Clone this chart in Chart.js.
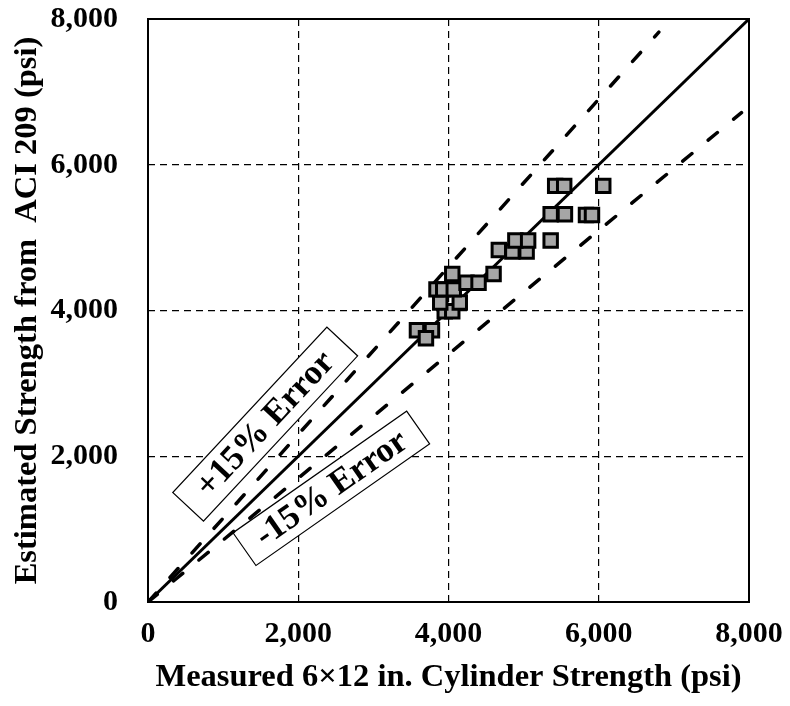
<!DOCTYPE html>
<html>
<head>
<meta charset="utf-8">
<script src="https://cdn.jsdelivr.net/npm/chart.js@4.4.1/dist/chart.umd.min.js"></script>
<style>
  body { margin: 0; background: #fff; }
  #wrap { width: 790px; height: 706px; }
</style>
</head>
<body>
<div id="wrap"><canvas id="myChart"></canvas></div>
<script>
// measured vs estimated strength (psi)
var measured  = [3580, 3780, 3700, 3950, 4050, 3890, 4150, 3840, 3930, 4070, 4050, 4240, 4400, 4600,
                 4670, 4850, 5040, 4890, 5060, 5360, 5360, 5550, 5830, 5910, 5420, 5540, 6060];
var estimated = [3730, 3730, 3620, 3990, 3990, 4110, 4110, 4290, 4290, 4290, 4500, 4380, 4380, 4500,
                 4830, 4810, 4810, 4960, 4960, 4960, 5320, 5320, 5310, 5310, 5710, 5710, 5710];

// reference lines
var equalX = [0, 8000], equalY = [0, 8000];
var upperX = [0, 6800], upperY = [0, 7820];
var lowerX = [0, 7900], lowerY = [0, 6715];

var tickValues = [0, 2000, 4000, 6000, 8000];

// boxed notes
var noteText = ["+15% Error", "-15% Error"];
var noteX = [1560, 2440];
var noteY = [2440, 1560];

function pts(xs, ys) {
  return xs.map(function (x, i) { return {x: x, y: ys[i]}; });
}

var serif = "'Liberation Serif', 'Times New Roman', serif";

var framePlugin = {
  id: 'frame',
  beforeDatasetsDraw: function (chart) {
    var ctx = chart.ctx, xs = chart.scales.x, ys = chart.scales.y;
    var style = [{ang: -47, w: 226, h: 42}, {ang: -35, w: 212, h: 40}];
    noteText.forEach(function (t, i) {
      var cx = xs.getPixelForValue(noteX[i]), cy = ys.getPixelForValue(noteY[i]);
      ctx.save();
      ctx.translate(cx, cy);
      ctx.rotate(style[i].ang * Math.PI / 180);
      ctx.fillStyle = '#fff';
      ctx.strokeStyle = '#000';
      ctx.lineWidth = 1.2;
      ctx.fillRect(-style[i].w / 2, -style[i].h / 2, style[i].w, style[i].h);
      ctx.strokeRect(-style[i].w / 2, -style[i].h / 2, style[i].w, style[i].h);
      ctx.fillStyle = '#000';
      ctx.font = 'bold 35px ' + serif;
      ctx.textAlign = 'center';
      ctx.textBaseline = 'middle';
      ctx.fillText(t, 0, 1);
      ctx.restore();
    });
  },
  afterDraw: function (chart) {
    var a = chart.chartArea, ctx = chart.ctx;
    ctx.save();
    ctx.strokeStyle = '#000';
    ctx.lineWidth = 2;
    ctx.strokeRect(a.left, a.top, a.right - a.left, a.bottom - a.top);
    ctx.restore();
  }
};

function gridColor(c) {
  return (c.tick && (c.tick.value === 0 || c.tick.value === 8000)) ? 'rgba(0,0,0,0)' : '#000';
}

new Chart(document.getElementById('myChart'), {
  type: 'scatter',
  data: {
    datasets: [
      {
        label: 'Data',
        data: pts(measured, estimated),
        pointStyle: 'rect',
        pointRadius: 9.5,
        pointBorderWidth: 3,
        pointBackgroundColor: '#a6a6a6',
        pointBorderColor: '#000',
        order: 0
      },
      {
        label: 'Equality',
        data: pts(equalX, equalY),
        showLine: true,
        borderColor: '#000',
        borderWidth: 3,
        pointRadius: 0,
        order: 1
      },
      {
        label: '+15%',
        data: pts(upperX, upperY),
        showLine: true,
        borderColor: '#000',
        borderWidth: 3.5,
        borderDash: [12, 21],
        borderCapStyle: 'round',
        pointRadius: 0,
        order: 2
      },
      {
        label: '-15%',
        data: pts(lowerX, lowerY),
        showLine: true,
        borderColor: '#000',
        borderWidth: 3.5,
        borderDash: [12, 21],
        borderCapStyle: 'round',
        pointRadius: 0,
        order: 3
      }
    ]
  },
  options: {
    responsive: true,
    maintainAspectRatio: false,
    animation: false,
    layout: { padding: { top: 19, right: 41, left: 0, bottom: 0 } },
    plugins: { legend: { display: false }, tooltip: { enabled: false } },
    scales: {
      x: {
        type: 'linear',
        min: 0, max: 8000,
        afterBuildTicks: function (s) { s.ticks = tickValues.map(function (v) { return {value: v}; }); },
        afterFit: function (s) { s.height = 104; s.paddingLeft = 0; s.paddingRight = 0; },
        grid: { color: gridColor, lineWidth: 1.2, drawTicks: false },
        border: { display: false, dash: [7, 5] },
        ticks: { color: '#000', padding: 14, maxRotation: 0,
                 font: { family: serif, size: 30, weight: 'bold' } },
        title: {
          display: true,
          text: 'Measured 6×12 in. Cylinder Strength (psi)',
          color: '#000',
          font: { family: serif, size: 32.5, weight: 'bold' },
          padding: { top: 0, bottom: 9 }
        }
      },
      y: {
        type: 'linear',
        min: 0, max: 8000,
        afterBuildTicks: function (s) { s.ticks = tickValues.map(function (v) { return {value: v}; }); },
        afterFit: function (s) { s.width = 148; s.paddingTop = 0; s.paddingBottom = 0; },
        grid: { color: gridColor, lineWidth: 1.2, drawTicks: false },
        border: { display: false, dash: [7, 5] },
        ticks: { color: '#000', padding: 30,
                 font: { family: serif, size: 30, weight: 'bold' } },
        title: {
          display: true,
          text: 'Estimated Strength from  ACI 209 (psi)',
          color: '#000',
          font: { family: serif, size: 32.5, weight: 'bold' },
          padding: { top: 8, bottom: 0 }
        }
      }
    }
  },
  plugins: [framePlugin]
});
</script>
</body>
</html>
